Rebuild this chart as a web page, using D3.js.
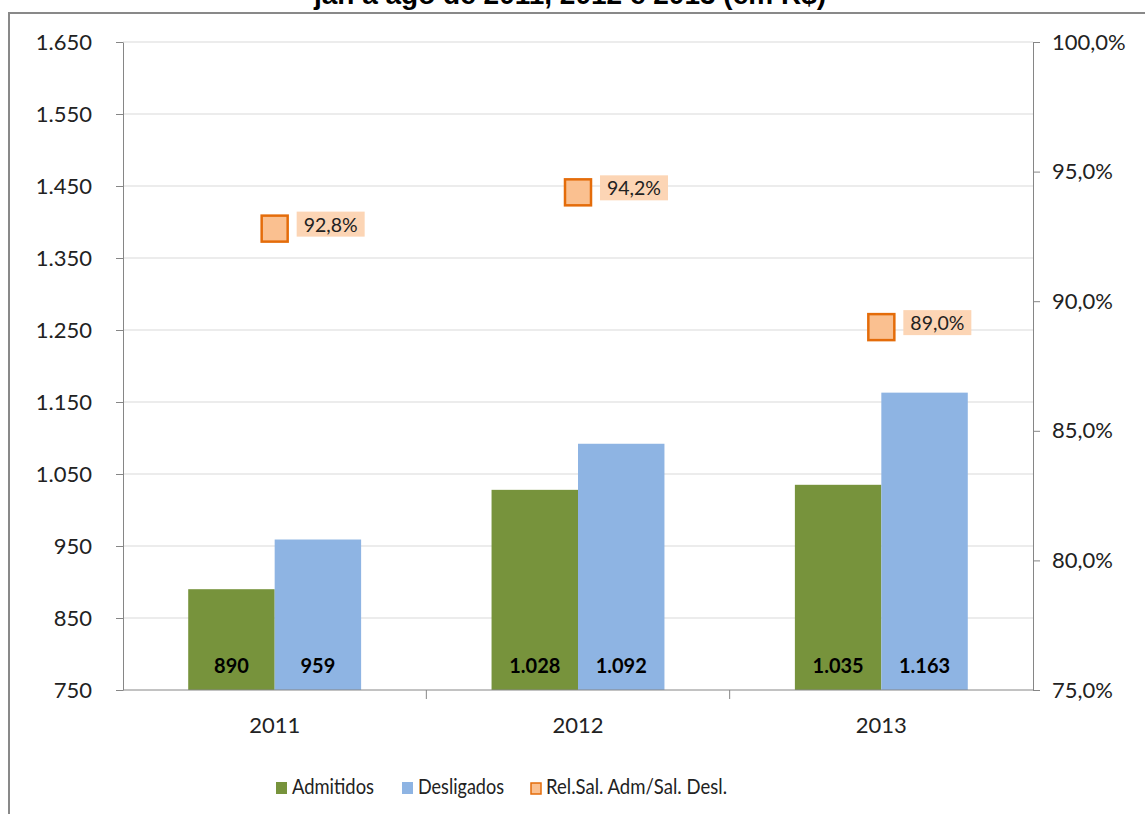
<!DOCTYPE html>
<html>
<head>
<meta charset="utf-8">
<script src="https://cdn.jsdelivr.net/npm/d3@7"></script>
<style>
  body { margin: 0; background: #fff; }
  svg { display: block; font-family: Lato, "Open Sans", sans-serif; }
</style>
</head>
<body>
<div id="app"></div>
<script>
const OUTER = { width: 1145, height: 814 };
const MARGIN = { top: 42, right: 112, bottom: 124, left: 123 };
const INNER = {
  width: OUTER.width - MARGIN.left - MARGIN.right,
  height: OUTER.height - MARGIN.top - MARGIN.bottom,
};

const title = "jan a ago de 2011, 2012 e 2013 (em R$)";
const years = ["2011", "2012", "2013"];
const admitidos = [890, 1028, 1035];
const desligados = [959, 1092, 1163];
const relacao = [92.8, 94.2, 89.0];
const leftTicks = [750, 850, 950, 1050, 1150, 1250, 1350, 1450, 1550, 1650];
const rightTicks = [75, 80, 85, 90, 95, 100];
const seriesNames = ["Admitidos", "Desligados", "Rel.Sal. Adm/Sal. Desl."];

const COLORS = { adm: "#77933C", des: "#8EB4E3", relFill: "#FAC090", relStroke: "#E46C0A", relLabel: "#FCD5B5" };

const ptBR = d3.formatLocale({ decimal: ",", thousands: ".", grouping: [3], currency: ["R$", ""] });
const fmtInt = ptBR.format(",d");
const fmtPct = v => ptBR.format(".1f")(v) + "%";

const xScale = d3.scaleBand().domain(years).range([0, INNER.width]);
const yScale = d3.scaleLinear().domain([750, 1650]).range([INNER.height, 0]);
const y2Scale = d3.scaleLinear().domain([75, 100]).range([INNER.height, 0]);
const barW = xScale.bandwidth() * 0.285;

const svg = d3.select("#app").append("svg")
  .attr("width", OUTER.width)
  .attr("height", OUTER.height);

// outer frame
svg.append("path")
  .attr("d", `M9,${OUTER.height} V13 H${OUTER.width}`)
  .attr("fill", "none")
  .attr("stroke", "#898989")
  .attr("stroke-width", 2);

svg.append("text")
  .attr("x", 570)
  .attr("y", 4)
  .attr("text-anchor", "middle")
  .style("font-family", "'Liberation Sans', Arial, sans-serif")
  .style("font-weight", "bold")
  .style("font-size", "28px")
  .text(title);

const chart = svg.append("g")
  .attr("transform", `translate(${MARGIN.left}, ${MARGIN.top})`);

// gridlines
chart.append("g")
  .selectAll("line")
  .data(leftTicks.slice(1))
  .join("line")
  .attr("x1", 0).attr("x2", INNER.width)
  .attr("y1", d => yScale(d)).attr("y2", d => yScale(d))
  .attr("stroke", "#D9D9D9");

const styleAxis = g => {
  g.select(".domain").attr("stroke", "#868686");
  g.selectAll(".tick line").attr("stroke", "#868686");
  g.selectAll(".tick text").attr("fill", "#222").style("font-size", "22px").style("font-family", "Lato, sans-serif");
};

chart.append("g")
  .call(d3.axisLeft(yScale).tickValues(leftTicks).tickFormat(fmtInt).tickSize(7).tickPadding(24).tickSizeOuter(0))
  .call(styleAxis);

chart.append("g")
  .attr("transform", `translate(${INNER.width}, 0)`)
  .call(d3.axisRight(y2Scale).tickValues(rightTicks).tickFormat(d => fmtPct(d)).tickSize(7).tickPadding(12).tickSizeOuter(0))
  .call(styleAxis);

// bars
const groups = chart.append("g")
  .selectAll("g")
  .data(years)
  .join("g")
  .attr("transform", d => `translate(${xScale(d) + xScale.bandwidth() / 2}, 0)`);

groups.append("rect")
  .attr("x", -barW)
  .attr("width", barW)
  .attr("y", (d, i) => yScale(admitidos[i]))
  .attr("height", (d, i) => INNER.height - yScale(admitidos[i]))
  .attr("fill", COLORS.adm);

groups.append("rect")
  .attr("x", 0)
  .attr("width", barW)
  .attr("y", (d, i) => yScale(desligados[i]))
  .attr("height", (d, i) => INNER.height - yScale(desligados[i]))
  .attr("fill", COLORS.des);

[admitidos, desligados].forEach((vals, k) => {
  groups.append("text")
    .attr("x", k === 0 ? -barW / 2 : barW / 2)
    .attr("y", INNER.height - 17)
    .attr("text-anchor", "middle")
    .style("font-weight", "bold")
    .style("font-size", "20px")
    .attr("fill", "#000")
    .text((d, i) => fmtInt(vals[i]));
});

// x axis (category boundaries)
const xAxis = chart.append("g")
  .attr("transform", `translate(0, ${INNER.height})`);
xAxis.append("line")
  .attr("x1", 0).attr("x2", INNER.width)
  .attr("stroke", "#868686");
xAxis.selectAll(".sep")
  .data(years.slice(1))
  .join("line")
  .attr("class", "sep")
  .attr("x1", d => xScale(d)).attr("x2", d => xScale(d))
  .attr("y1", 0).attr("y2", 9)
  .attr("stroke", "#868686");
xAxis.selectAll(".lbl")
  .data(years)
  .join("text")
  .attr("class", "lbl")
  .attr("x", d => xScale(d) + xScale.bandwidth() / 2)
  .attr("y", 43)
  .attr("text-anchor", "middle")
  .attr("fill", "#222")
  .style("font-size", "22px")
  .text(d => d);

// ratio markers + labels
const rel = groups.append("g")
  .attr("transform", (d, i) => `translate(0, ${y2Scale(relacao[i])})`);
rel.append("rect")
  .attr("x", -13).attr("y", -13)
  .attr("width", 26).attr("height", 26)
  .attr("fill", COLORS.relFill)
  .attr("stroke", COLORS.relStroke)
  .attr("stroke-width", 2.5);
rel.append("rect")
  .attr("x", 22).attr("y", -17)
  .attr("width", 68).attr("height", 25)
  .attr("fill", COLORS.relLabel);
rel.append("text")
  .attr("x", 56).attr("y", 3)
  .attr("text-anchor", "middle")
  .attr("fill", "#222")
  .style("font-size", "19.5px")
  .text((d, i) => fmtPct(relacao[i]));

// legend
const legendX = [276, 402, 530];
const legend = svg.append("g")
  .selectAll("g")
  .data(seriesNames)
  .join("g")
  .attr("transform", (d, i) => `translate(${legendX[i]}, 782)`);
legend.append("rect")
  .attr("x", (d, i) => i === 2 ? 1 : 0)
  .attr("y", (d, i) => i === 2 ? 1 : 0)
  .attr("width", (d, i) => i === 2 ? 10 : 11)
  .attr("height", (d, i) => i === 2 ? 11 : 12)
  .attr("fill", (d, i) => [COLORS.adm, COLORS.des, COLORS.relFill][i])
  .attr("stroke", (d, i) => i === 2 ? COLORS.relStroke : "none")
  .attr("stroke-width", 1.5);
legend.append("text")
  .attr("x", 16)
  .attr("y", 12)
  .attr("fill", "#222")
  .style("font-size", "22px")
  .attr("textLength", (d, i) => [82, 86, 181][i])
  .attr("lengthAdjust", "spacingAndGlyphs")
  .text(d => d);
</script>
</body>
</html>
